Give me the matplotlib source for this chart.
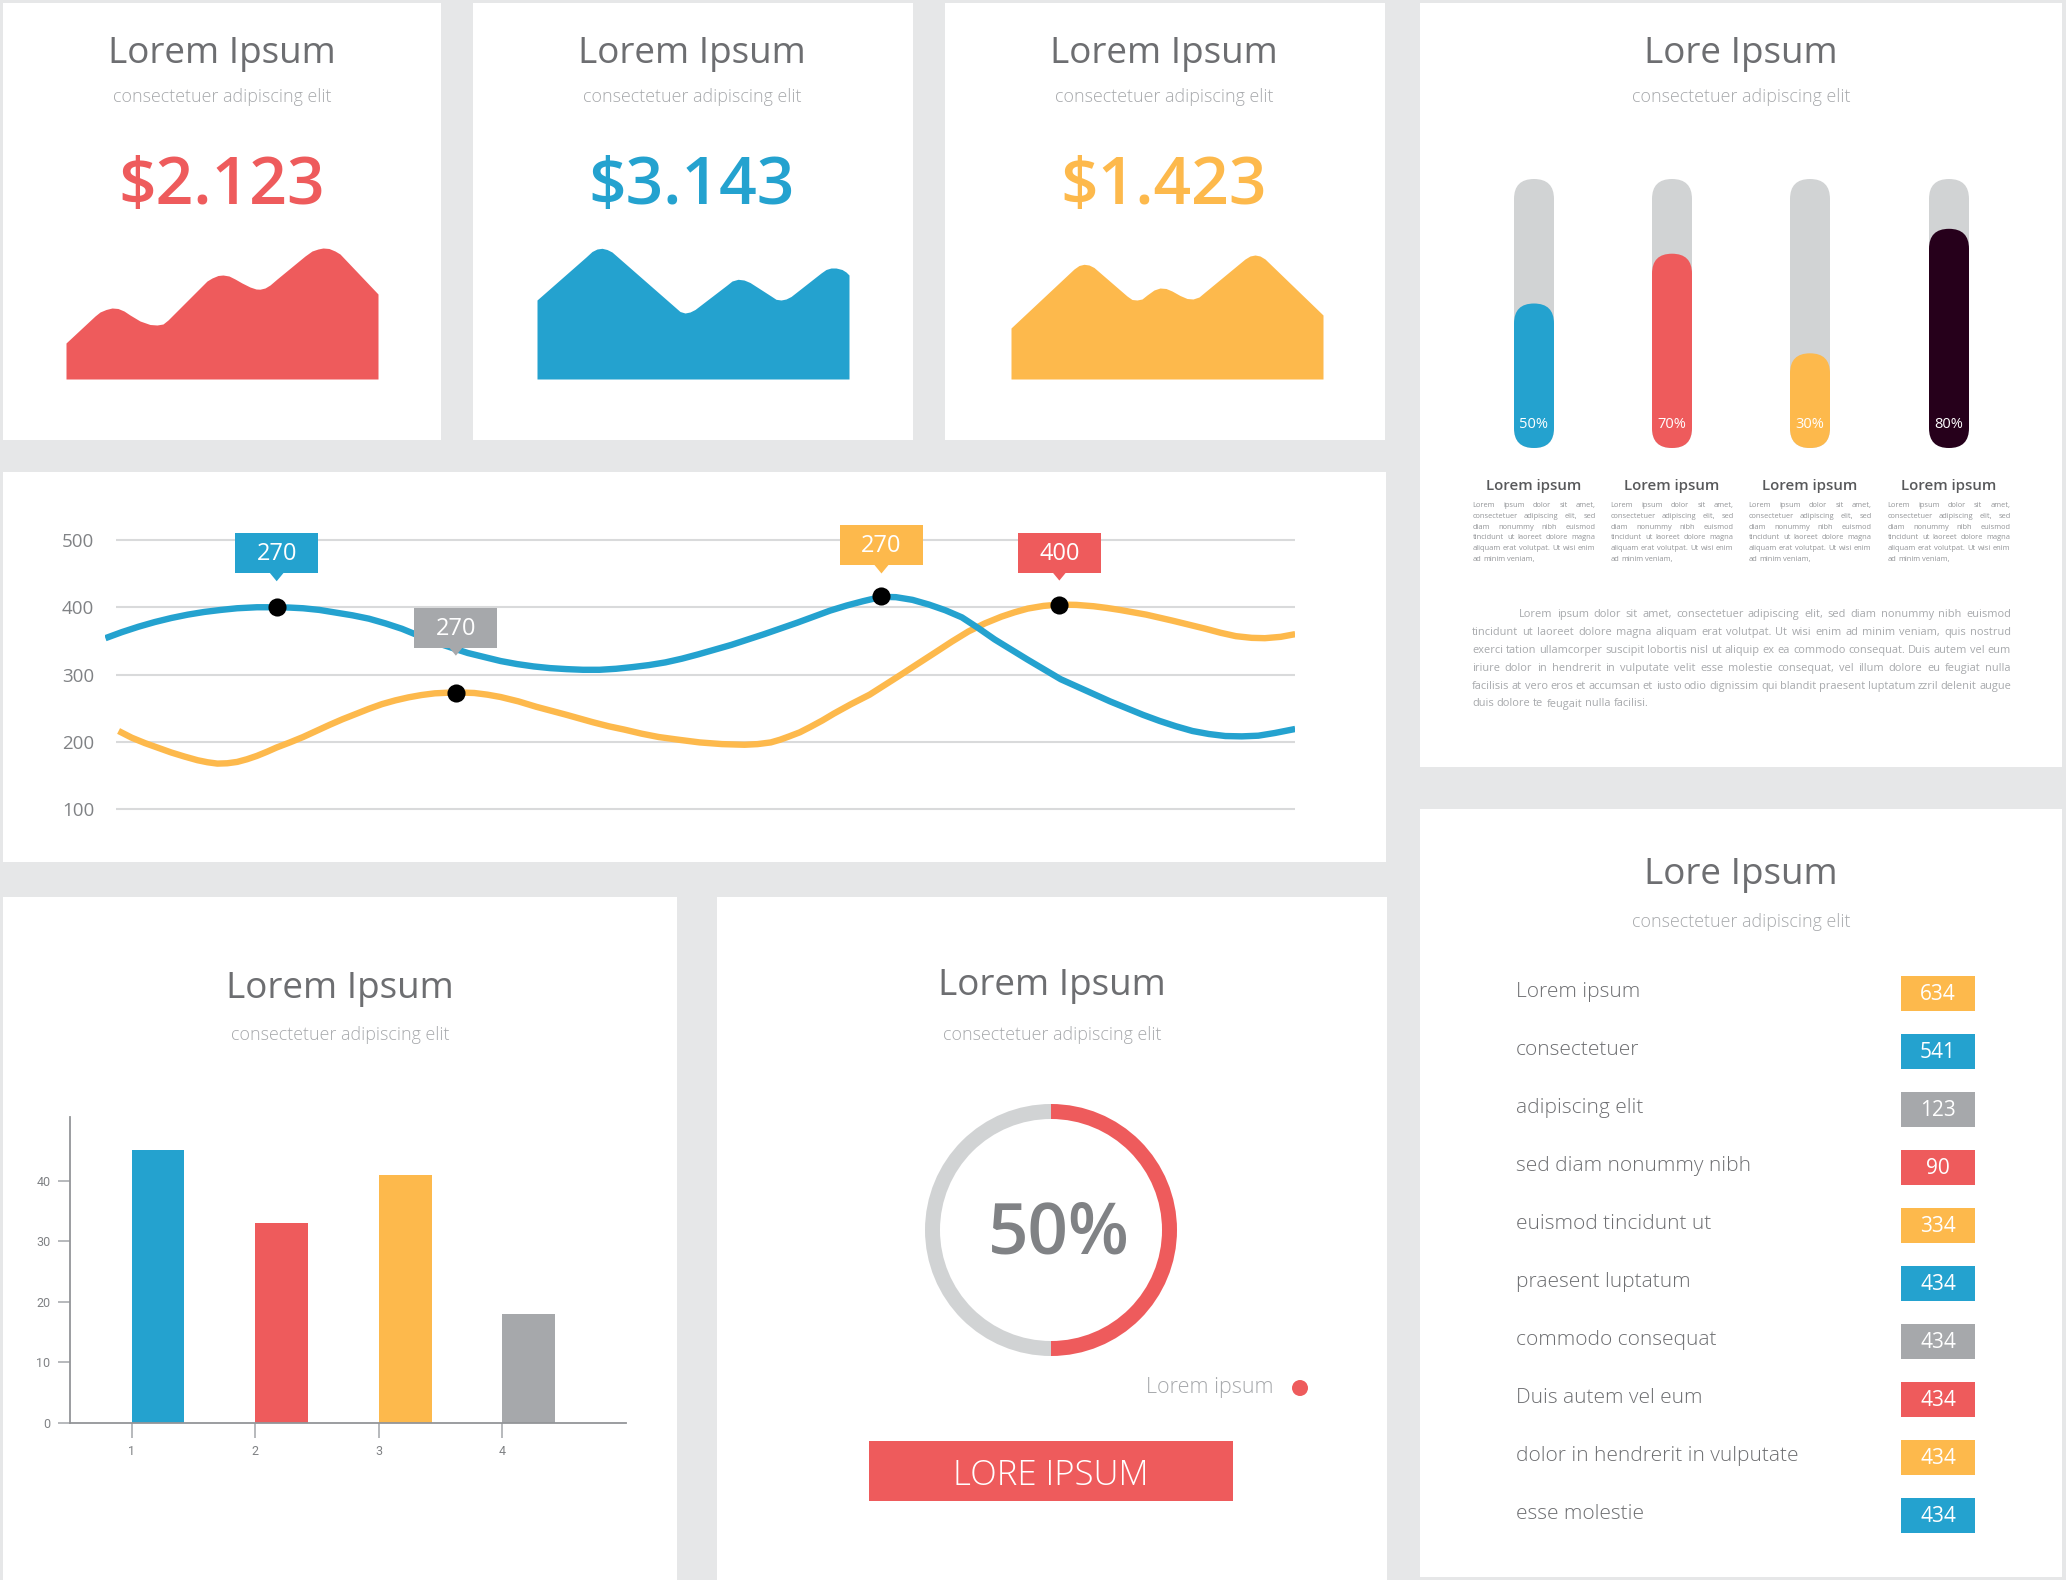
import numpy as np
import matplotlib
matplotlib.use("Agg")
import matplotlib.pyplot as plt
from matplotlib.patches import Rectangle, FancyBboxPatch, Polygon, Circle

plt.rcParams['font.family'] = ['Open Sans', 'DejaVu Sans']

W, H = 2066, 1580

# ---------------- data ----------------
card_titles = ["Lorem Ipsum", "Lorem Ipsum", "Lorem Ipsum"]
card_subtitle = "consectetuer adipiscing elit"
card_values = ["$2.123", "$3.143", "$1.423"]

area_red_x = [0, 29, 34, 40, 46, 52, 58, 64, 74, 84, 91, 97, 102, 109, 134, 141, 146, 152, 157, 163,
              169, 176, 184, 190, 194, 199, 204, 211, 239, 246, 252, 257, 263, 269, 274, 312]
area_red_y = [36, 63, 67, 69.5, 71, 70.5, 68, 64, 58, 54.5, 54, 55, 59, 66, 91, 98, 101, 103.5, 104, 103,
              100, 96, 92, 90, 89.8, 91, 94, 100, 123, 128, 130, 131, 130.5, 128, 125, 85]
area_blue_x = [0, 49, 55, 60, 65, 70, 75, 139, 143, 148, 153, 158, 190, 195, 201, 207, 213, 234, 239,
               244, 249, 254, 284, 289, 294, 299, 305, 309, 312]
area_blue_y = [79, 122, 127.5, 130, 130.7, 129.5, 127, 71, 67.5, 66, 67, 69.5, 94, 98, 99.7, 99, 96.5, 83,
               79.7, 79, 80, 82.5, 106, 109.5, 111, 111, 109.5, 107, 104]
area_yellow_x = [0, 63, 68, 73, 78, 83, 116, 121, 126, 131, 136, 143, 149, 155, 161, 169, 176, 182, 188,
                 194, 234, 239, 244, 249, 254, 312]
area_yellow_y = [51, 110, 113.5, 114.7, 114, 111.5, 83, 79.5, 79, 80, 84, 89, 91, 90.5, 88, 83.5, 80.5, 80,
                 82, 87, 120, 123, 124, 123, 120, 64]

line_yticks = [100, 200, 300, 400, 500]
blue_x = [0, 1.25, 2.5, 3.75, 5, 6.25, 7.5, 8.75, 10, 11.5, 13, 14, 15, 16.25, 17.5, 18.75, 20, 21.25,
          22.5, 23.75, 25, 26.25, 27.5, 28.75, 30, 31.25, 32.5, 33.75, 35, 36.25, 37.5, 38.75, 40, 41.25,
          42.5, 43.75, 45, 46.25, 47.5, 48.75, 50, 51.25, 52.5, 53.75, 55, 56.25, 57.5, 58.9, 60, 61.25,
          62.5, 63.75, 65, 66.25, 67.5, 68.75, 70, 71.25, 72.5, 73.75, 75, 76.25, 77.5, 78.75, 80, 81.25,
          82.5, 83.75, 85, 86.25, 87.5, 88.75, 90.3]
blue_y = [354, 363, 371, 378, 384, 389, 393, 396, 398.5, 400, 400, 399.5, 398.5, 396, 392, 388, 383, 376,
          368, 358, 348, 340, 332, 326, 320, 315.5, 312, 309.5, 308, 307, 307, 308.5, 311, 314,
          318, 323.5, 330, 337, 344, 352, 360, 368.5, 377, 386, 395, 402.5, 409, 415.5, 415, 411,
          404, 395.5, 385, 369, 352, 337, 322, 307.5, 293, 282, 271, 260, 250, 240, 231, 223,
          216, 211.5, 208.5, 208, 209, 213, 219]
orange_x = [1, 2, 3, 4, 5, 6, 7, 7.75, 8.5, 9.25, 10, 10.75, 11.5, 12.25, 13, 14, 15, 16, 17, 18, 19.1,
            20, 21, 22, 23, 24, 25, 26.6, 28, 29, 30, 31.35, 32.7, 33.85, 35, 36, 37, 38.2, 39.4, 40.7,
            42, 43.5, 45.1, 46.8, 48.5, 49.5, 50.5, 51.2, 51.9, 52.7, 53.5, 54.4, 55.3, 56.6, 58, 59.2,
            60.4, 61.7, 63, 64.25, 65.5, 66.75, 68, 69, 70, 71.2, 72.4, 73.7, 75, 76, 77, 78, 79, 80,
            81, 82.25, 83.5, 84.65, 85.8, 87, 88, 89.2, 90.3]
orange_y = [216, 206, 198, 191, 184, 178, 172.5, 169.5, 167.5, 168, 170, 174, 179, 185, 191.5, 199, 207,
            216, 225, 233.5, 242, 249, 256, 261.5, 266, 269.5, 272, 273.5, 272.5, 270, 266.5, 260, 252,
            246, 240, 234.5, 229, 223, 218, 212, 207, 203, 199, 196.5, 195.5, 196.5, 199, 203, 208,
            214, 222, 231.5, 242, 256, 270, 285, 300, 316.5, 333, 349, 364, 376, 386, 392.5, 398, 402,
            404, 403.5, 401.5, 399, 396, 392.5, 389, 384.5, 380, 374, 368, 362, 357, 354.5, 354, 356,
            360]
mark_x = [13, 26.6, 58.9, 72.4]
mark_y = [400, 273, 416, 404]
callout_text = ["270", "270", "270", "400"]

bar_cats = [1, 2, 3, 4]
bar_vals = [45, 33, 41, 18]
bar_yticks = [0, 10, 20, 30, 40]

pill_pcts = [50, 70, 30, 80]
pill_heads = ["Lorem ipsum", "Lorem ipsum", "Lorem ipsum", "Lorem ipsum"]
col_lines = ["Lorem ipsum dolor sit amet,",
             "consectetuer adipiscing elit, sed",
             "diam nonummy nibh euismod",
             "tincidunt ut laoreet dolore magna",
             "aliquam erat volutpat. Ut wisi enim",
             "ad minim veniam,"]
par_lines = ["Lorem ipsum dolor sit amet, consectetuer adipiscing elit, sed diam nonummy nibh euismod",
             "tincidunt ut laoreet dolore magna aliquam erat volutpat. Ut wisi enim ad minim veniam, quis nostrud",
             "exerci tation ullamcorper suscipit lobortis nisl ut aliquip ex ea commodo consequat. Duis autem vel eum",
             "iriure dolor in hendrerit in vulputate velit esse molestie consequat, vel illum dolore eu feugiat nulla",
             "facilisis at vero eros et accumsan et iusto odio dignissim qui blandit praesent luptatum zzril delenit augue",
             "duis dolore te feugait nulla facilisi."]

donut_pct = 50
donut_label = "Lorem ipsum"
button_text = "LORE IPSUM"

list_labels = ["Lorem ipsum", "consectetuer", "adipiscing elit", "sed diam nonummy nibh",
               "euismod tincidunt ut", "praesent luptatum", "commodo consequat",
               "Duis autem vel eum", "dolor in hendrerit in vulputate", "esse molestie"]
list_values = [634, 541, 123, 90, 334, 434, 434, 434, 434, 434]

# ---------------- style ----------------
BG = '#E6E7E8'
BLUE = '#24A2CF'
RED = '#EE5B5C'
YELLOW = '#FDB94C'
GRAY = '#A6A8AB'
DARK = '#26001B'
LIGHT = '#D1D3D4'
TITLE_C = '#6D6E71'
SUB_C = '#A7A9AC'
TICK_C = '#808285'

fig = plt.figure(figsize=(W / 100, H / 100), dpi=100)
fig.patch.set_facecolor(BG)


def rect(x, y, w, h):
    return [x / W, 1 - (y + h) / H, w / W, h / H]


bg = fig.add_axes([0, 0, 1, 1], zorder=0)
bg.set_xlim(0, W)
bg.set_ylim(H, 0)
bg.axis('off')

panels = [(3, 3, 438, 437), (473, 3, 440, 437), (945, 3, 440, 437), (1420, 3, 642, 764),
          (3, 472, 1383, 390), (3, 897, 674, 683), (717, 897, 670, 683), (1420, 809, 642, 768)]
for (x, y, w, h) in panels:
    bg.add_patch(Rectangle((x, y), w, h, fc='white', ec='none'))


def title(cx, base, txt):
    bg.text(cx, base, txt, ha='center', va='baseline', fontsize=26.6, color=TITLE_C)


def subtitle(cx, base):
    bg.text(cx, base, card_subtitle, ha='center', va='baseline', fontsize=12.9,
            color=SUB_C, fontweight='light')


renderer = fig.canvas.get_renderer()


def word_width(w, size, weight):
    t = bg.text(0, 0, w, fontsize=size, fontweight=weight)
    wd = t.get_window_extent(renderer=renderer).width
    t.remove()
    return wd


def justify(lines, x0, x1, y0, dy, size, color, indent=0, weight='normal'):
    while True:
        ok = True
        sp = word_width('a a', size, weight) - 2 * word_width('a', size, weight)
        mg = sp * 0.75
        widths = []
        for k, line in enumerate(lines):
            ws = [word_width(w, size, weight) for w in line.split()]
            widths.append(ws)
            left = x0 + (indent if k == 0 else 0)
            if sum(ws) + mg * (len(ws) - 1) > x1 - left:
                ok = False
        if ok:
            break
        size *= 0.97
    for k, line in enumerate(lines):
        words = line.split()
        ws = widths[k]
        left = x0 + (indent if k == 0 else 0)
        if k == len(lines) - 1:
            gap = sp
        else:
            gap = (x1 - left - sum(ws)) / (len(ws) - 1)
        x = left
        for w, wd in zip(words, ws):
            bg.text(x, y0 + k * dy, w, ha='left', va='baseline', fontsize=size,
                    color=color, fontweight=weight)
            x += wd + gap


# ---------------- top cards ----------------
card_lefts = [3, 473, 945]
card_cols = [RED, BLUE, YELLOW]
area_off = [63, 64, 66]
areas = [(area_red_x, area_red_y), (area_blue_x, area_blue_y), (area_yellow_x, area_yellow_y)]
for i in range(3):
    cx = card_lefts[i] + 219
    title(cx, 63, card_titles[i])
    subtitle(cx, 102)
    bg.text(cx, 204, card_values[i], ha='center', va='baseline', fontsize=47.5,
            fontweight='semibold', color=card_cols[i])
    ax = fig.add_axes(rect(card_lefts[i] + area_off[i], 379 - 140, 312, 140), zorder=2)
    xs, ys = areas[i]
    ax.fill_between(xs, 0, ys, color=card_cols[i], lw=0)
    ax.set_xlim(0, 312)
    ax.set_ylim(0, 140)
    ax.axis('off')

# ---------------- right top panel ----------------
title(1741, 63, "Lore Ipsum")
subtitle(1741, 102)
pill_cx = [1534, 1672, 1810, 1949]
pill_cols = [BLUE, RED, YELLOW, DARK]
ptop, pbot, pw = 179, 448, 40
for cx, p, col, head in zip(pill_cx, pill_pcts, pill_cols, pill_heads):
    bg.add_patch(FancyBboxPatch((cx - pw / 2, ptop), pw, pbot - ptop,
                                boxstyle='round,pad=0,rounding_size=20', fc=LIGHT, ec='none'))
    fh = pw / 2 + p / 100 * (pbot - ptop - pw / 2)
    bg.add_patch(FancyBboxPatch((cx - pw / 2, pbot - fh), pw, fh,
                                boxstyle='round,pad=0,rounding_size=20', fc=col, ec='none'))
    bg.text(cx, 428, f"{p}%", ha='center', va='baseline', fontsize=10.5, color='white')
    bg.text(cx, 490, head, ha='center', va='baseline', fontsize=10.8, fontweight='semibold',
            color='#58595B')
    justify(col_lines, cx - 61.5, cx + 61.5, 507, 10.8, 5.9, '#939598')

justify(par_lines, 1472, 2011, 617, 17.9, 8.4, '#A7A9AC', indent=47)

# ---------------- line chart ----------------
axl = fig.add_axes(rect(105.4, 499.65, 1189.8, 336.25), zorder=2)
axl.set_facecolor('none')
axl.set_xlim(0, 90.3)
axl.set_ylim(60, 560)
axl.hlines(line_yticks, 0.8, 90.3, color='#D9DADB', lw=1.5, zorder=1)
axl.plot(orange_x, orange_y, color=YELLOW, lw=4.6, zorder=2, solid_capstyle='butt',
         solid_joinstyle='round')
axl.plot(blue_x, blue_y, color=BLUE, lw=4.6, zorder=3, solid_capstyle='butt',
         solid_joinstyle='round')
axl.scatter(mark_x, mark_y, s=170, color='black', zorder=5, lw=0)
axl.set_yticks(line_yticks)
axl.set_xticks([])
axl.tick_params(axis='y', length=0, pad=8, labelsize=13.5, labelcolor=TICK_C)
for s in axl.spines.values():
    s.set_visible(False)

top = fig.add_axes([0, 0, 1, 1], zorder=10)
top.set_xlim(0, W)
top.set_ylim(H, 0)
top.axis('off')
callout_cols = [BLUE, GRAY, YELLOW, RED]
callout_off = [54, 65, 51, 52]
for mx, my, txt, col, off in zip(mark_x, mark_y, callout_text, callout_cols, callout_off):
    dx, dy = axl.transData.transform((mx, my))
    px, py = dx, H - dy
    cy = py - off
    top.add_patch(Rectangle((px - 41.5, cy - 20), 83, 40, fc=col, ec='none'))
    top.add_patch(Polygon([(px - 7, cy + 19.5), (px + 7, cy + 19.5), (px, cy + 28)],
                          closed=True, fc=col, ec='none'))
    top.text(px, cy + 1, txt, ha='center', va='center', fontsize=17, color='white')

# ---------------- bar chart ----------------
title(340, 998, "Lorem Ipsum")
subtitle(340, 1040)
axb = fig.add_axes(rect(70, 1117, 556, 306), zorder=2)
axb.set_facecolor('none')
axb.bar(bar_cats, bar_vals, width=0.426, align='edge', color=[BLUE, RED, YELLOW, GRAY])
axb.set_xlim(0.5, 5.0)
axb.set_ylim(0, 50.5)
axb.set_xticks(bar_cats)
axb.set_yticks(bar_yticks)
for s in ['top', 'right']:
    axb.spines[s].set_visible(False)
for s in ['left', 'bottom']:
    axb.spines[s].set_color('#939598')
    axb.spines[s].set_linewidth(1.3)
axb.tick_params(axis='y', length=9, width=1.3, color='#B1B3B6', pad=5, labelsize=9,
                labelcolor=TICK_C, labelfontfamily='Roboto')
axb.tick_params(axis='x', length=11, width=1.3, color='#B1B3B6', pad=5, labelsize=9,
                labelcolor=TICK_C, labelfontfamily='Roboto')

# ---------------- donut ----------------
title(1052, 995, "Lorem Ipsum")
subtitle(1052, 1040)
axd = fig.add_axes(rect(925, 1104, 252, 252), zorder=2)
axd.pie([donut_pct, 100 - donut_pct], colors=[RED, LIGHT], startangle=90, counterclock=False,
        radius=1, wedgeprops=dict(width=0.119, edgecolor='none'))
axd.set_xlim(-1, 1)
axd.set_ylim(-1, 1)
axd.set_aspect('equal')
axd.axis('off')
bg.text(1059, 1253, f"{donut_pct}%", ha='center', va='baseline', fontsize=51,
        fontweight='semibold', color=TICK_C)
bg.text(1273, 1393, donut_label, ha='right', va='baseline', fontsize=15.5,
        fontweight='light', color=SUB_C)
bg.add_patch(Circle((1300, 1388), 8, fc=RED, ec='none'))
bg.add_patch(Rectangle((869, 1441), 364, 60, fc=RED, ec='none'))
bg.text(1051, 1485, button_text, ha='center', va='baseline', fontsize=25,
        fontweight='light', color='white')

# ---------------- list panel ----------------
title(1741, 884, "Lore Ipsum")
subtitle(1741, 927)
list_cols = [YELLOW, BLUE, GRAY, RED]
for k, (lab, val) in enumerate(zip(list_labels, list_values)):
    cy = 993.5 + 58 * k
    bg.text(1516, cy + 3.5, lab, ha='left', va='baseline', fontsize=15,
            fontweight='light', color=TITLE_C)
    bg.add_patch(Rectangle((1901, cy - 17.5), 74, 35, fc=list_cols[k % 4], ec='none'))
    bg.text(1938, cy + 7, str(val), ha='center', va='baseline', fontsize=15, color='white')

fig.savefig('out.png', dpi=100, facecolor=BG)
